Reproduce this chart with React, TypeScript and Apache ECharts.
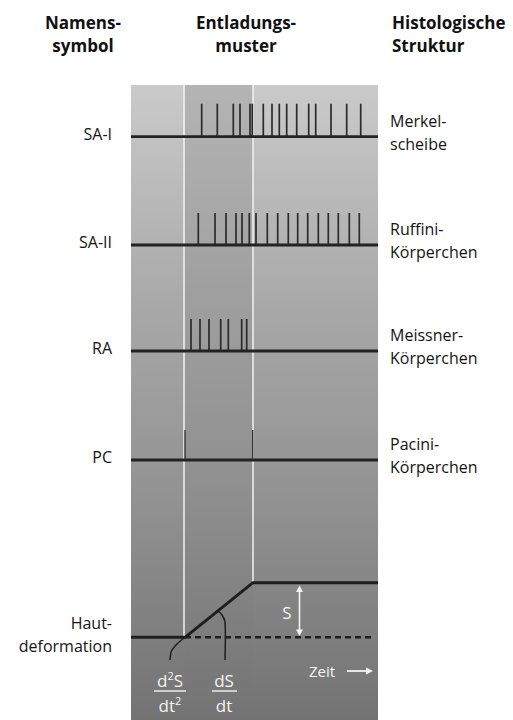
import React, { useEffect, useRef } from "react";
import * as echarts from "echarts";

// ---- data ----
const headers: string[][] = [["Namens-", "symbol"], ["Entladungs-", "muster"], ["Histologische", "Struktur"]];
const rowSymbols = ["SA-I", "SA-II", "RA", "PC"];
const rowStructures: string[][] = [["Merkel-", "scheibe"], ["Ruffini-", "Körperchen"], ["Meissner-", "Körperchen"], ["Pacini-", "Körperchen"]];
const skinLabel = ["Haut-", "deformation"];

// spike times (ms, 0..247)
const spikesSAI = [70.7, 86.3, 102.3, 109, 119, 121.3, 132.3, 141, 148.3, 155.7, 165.7, 177.7, 184.7, 200, 215.7, 229.7];
const spikesSAII = [67.3, 84, 95, 105, 111, 118.3, 125, 136.3, 146.7, 157.3, 166.7, 176.7, 187.3, 197.3, 207.3, 218.3, 228.3];
const spikesRA = [60, 69, 78, 89.7, 97.3, 110.7, 115.7];
const spikesPC = [54, 121.7];
const allSpikes = [spikesSAI, spikesSAII, spikesRA, spikesPC];

// skin deformation (time, relative displacement S)
const stimTime = [0, 54, 122, 247];
const stimDisp = [0, 0, 1, 1];
const restLevelEnd = 242;
const T_MAX = 247;

// ---- layout ----
const PANEL_LEFT = 131;
const PANEL_TOP = 85;
const PANEL_W = 247;
const PANEL_H = 635;
const ROW_BASE = [136.7, 245, 351, 460];
const ROW_H = [33, 32, 32, 30];
const SKIN_BASE = 637.3;
const SKIN_H = 54.6;
const FONT = "'Open Sans', 'Noto Sans', sans-serif";

export default function App() {
  const ref = useRef<HTMLDivElement>(null);
  useEffect(() => {
    if (!ref.current) return;
    const chart = echarts.init(ref.current, undefined, { renderer: "svg" });

    const grids: any[] = [];
    const xAxes: any[] = [];
    const yAxes: any[] = [];
    const series: any[] = [];

    const addGrid = (top: number, height: number, extra: any = {}) => {
      const i = grids.length;
      grids.push({ left: PANEL_LEFT, width: PANEL_W, top, height, show: false, ...extra });
      xAxes.push({ type: "value", gridIndex: i, min: 0, max: T_MAX, show: false });
      yAxes.push({ type: "value", gridIndex: i, min: 0, max: 1, show: false });
      return i;
    };

    // panel background
    const g0 = addGrid(PANEL_TOP, PANEL_H, {
      show: true,
      borderWidth: 0,
      backgroundColor: new echarts.graphic.LinearGradient(0, 0, 0, 1, [
        { offset: 0, color: "#cacaca" },
        { offset: 0.35, color: "#a8a8a8" },
        { offset: 0.65, color: "#929292" },
        { offset: 1, color: "#737373" },
      ]),
    });
    // middle (dynamic phase) band
    series.push({
      type: "custom",
      xAxisIndex: g0,
      yAxisIndex: g0,
      silent: true,
      z: 1,
      data: [[stimTime[1], stimTime[2]]],
      renderItem: (params: any, api: any) => {
        const a = api.coord([api.value(0), 1]);
        const b = api.coord([api.value(1), 0]);
        return {
          type: "rect",
          shape: { x: a[0], y: a[1], width: b[0] - a[0], height: b[1] - a[1] },
          style: {
            fill: new echarts.graphic.LinearGradient(0, 0, 0, 1, [
              { offset: 0, color: "rgba(0,0,0,0.11)" },
              { offset: 0.5, color: "rgba(0,0,0,0.04)" },
              { offset: 1, color: "rgba(0,0,0,0.0)" },
            ]),
          },
        };
      },
    });

    // rows
    allSpikes.forEach((spk, r) => {
      const gi = addGrid(ROW_BASE[r] - ROW_H[r], ROW_H[r]);
      series.push({
        type: "line",
        xAxisIndex: gi,
        yAxisIndex: gi,
        data: [[0, 0], [T_MAX, 0]],
        symbol: "none",
        clip: false,
        silent: true,
        z: 5,
        lineStyle: { color: "#232323", width: 2.8 },
      });
      series.push({
        type: "custom",
        xAxisIndex: gi,
        yAxisIndex: gi,
        clip: false,
        silent: true,
        z: 4,
        data: spk.map((t) => [t, 1]),
        renderItem: (params: any, api: any) => {
          const a = api.coord([api.value(0), 0]);
          const b = api.coord([api.value(0), api.value(1)]);
          return {
            type: "line",
            shape: { x1: a[0], y1: a[1], x2: b[0], y2: b[1] },
            style: { stroke: "#2b2b2b", lineWidth: r === 3 ? 1.3 : 1.7 },
          };
        },
      });
    });

    // skin deformation
    const gs = addGrid(SKIN_BASE - SKIN_H, SKIN_H);
    series.push({
      type: "custom",
      xAxisIndex: gs,
      yAxisIndex: gs,
      clip: false,
      silent: true,
      z: 3,
      data: [[stimTime[1] - 1, stimDisp[1]], [stimTime[2], stimDisp[2]]],
      renderItem: (params: any, api: any) => {
        const p = api.coord([api.value(0), api.value(1)]);
        return {
          type: "line",
          shape: { x1: p[0], y1: PANEL_TOP, x2: p[0], y2: p[1] },
          style: { stroke: "#f2f2f2", lineWidth: 1.5 },
        };
      },
    });
    series.push({
      type: "line",
      xAxisIndex: gs,
      yAxisIndex: gs,
      data: [[stimTime[1], 0], [restLevelEnd, 0]],
      symbol: "none",
      clip: false,
      silent: true,
      z: 5,
      lineStyle: { color: "#1e1e1e", width: 2.6, type: [6, 4] },
    });
    series.push({
      type: "line",
      xAxisIndex: gs,
      yAxisIndex: gs,
      data: stimTime.map((t, i) => [t, stimDisp[i]]),
      symbol: "none",
      clip: false,
      silent: true,
      z: 6,
      lineStyle: { color: "#1e1e1e", width: 2.9 },
    });

    // ---- text & annotations ----
    const graphic: any[] = [];
    const txt = (text: string, x: number, y: number, align: string, opts: any = {}) =>
      graphic.push({
        type: "text",
        z: 100,
        style: { text, x, y, align, verticalAlign: "middle", fontFamily: FONT, fontSize: 16, fill: "#141414", ...opts },
      });

    const hx = [83, 246, 392];
    const ha = ["center", "center", "left"];
    headers.forEach((h, i) => {
      txt(h[0], hx[i], 22, ha[i], { fontWeight: "bold", fontSize: 17, fill: "#111" });
      txt(h[1], hx[i], 45, ha[i], { fontWeight: "bold", fontSize: 17, fill: "#111" });
    });
    rowSymbols.forEach((s, i) => txt(s, 112, ROW_BASE[i] - 3, "right"));
    rowStructures.forEach((s, i) => {
      txt(s[0], 390, ROW_BASE[i] - 16, "left");
      txt(s[1], 390, ROW_BASE[i] + 7, "left");
    });
    txt(skinLabel[0], 112, 623, "right");
    txt(skinLabel[1], 112, 646, "right");

    // pointer lines
    graphic.push({
      type: "polyline",
      z: 90,
      shape: { points: [[170, 660], [171.5, 651], [177, 644], [184, 638]], smooth: 0.3 },
      style: { stroke: "#1e1e1e", lineWidth: 1.5, fill: null },
    });
    graphic.push({
      type: "polyline",
      z: 90,
      shape: { points: [[225, 660], [225, 622], [222, 615], [218, 611]], smooth: 0.3 },
      style: { stroke: "#1e1e1e", lineWidth: 1.5, fill: null },
    });

    // white fraction labels
    const white = "#f4f4f4";
    const sup = { s: { fontSize: 11, fontFamily: FONT, fill: white, verticalAlign: "top", lineHeight: 20 }, n: { fontSize: 17, fontFamily: FONT, fill: white, lineHeight: 20 } };
    txt("{n|d}{s|2}{n|S}", 170, 680, "center", { fill: white, fontSize: 17, rich: sup });
    txt("{n|dt}{s|2}", 170, 705, "center", { fill: white, fontSize: 17, rich: sup });
    txt("dS", 224, 680, "center", { fill: white, fontSize: 17 });
    txt("dt", 224, 705, "center", { fill: white, fontSize: 17 });
    graphic.push({ type: "line", z: 90, shape: { x1: 154, y1: 691, x2: 186, y2: 691 }, style: { stroke: white, lineWidth: 1.4 } });
    graphic.push({ type: "line", z: 90, shape: { x1: 212, y1: 691, x2: 237, y2: 691 }, style: { stroke: white, lineWidth: 1.4 } });

    // S arrow
    txt("S", 287, 612, "center", { fill: white, fontSize: 17 });
    graphic.push({ type: "line", z: 90, shape: { x1: 299.5, y1: 590, x2: 299.5, y2: 632 }, style: { stroke: white, lineWidth: 1.6 } });
    graphic.push({ type: "polygon", z: 90, shape: { points: [[299.5, 585.5], [296, 592], [303, 592]] }, style: { fill: white } });
    graphic.push({ type: "polygon", z: 90, shape: { points: [[299.5, 636], [296, 629.5], [303, 629.5]] }, style: { fill: white } });

    // Zeit arrow
    txt("Zeit", 309, 671, "left", { fill: white, fontSize: 15 });
    graphic.push({ type: "line", z: 90, shape: { x1: 347, y1: 671, x2: 367, y2: 671 }, style: { stroke: white, lineWidth: 1.8 } });
    graphic.push({ type: "polygon", z: 90, shape: { points: [[373, 671], [366, 667.5], [366, 674.5]] }, style: { fill: white } });

    chart.setOption({
      animation: false,
      backgroundColor: "#ffffff",
      grid: grids,
      xAxis: xAxes,
      yAxis: yAxes,
      series,
      graphic,
    });
    return () => chart.dispose();
  }, []);
  return <div ref={ref} style={{ position: "absolute", left: 0, top: 0, width: 513, height: 720 }} />;
}
